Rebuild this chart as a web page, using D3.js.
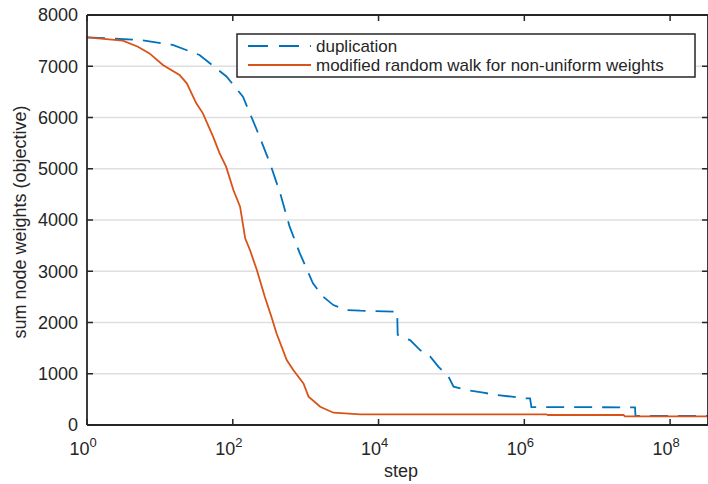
<!DOCTYPE html>
<html>
<head>
<meta charset="utf-8">
<script src="https://cdn.jsdelivr.net/npm/d3@7"></script>
<style>
  body { margin: 0; background: #fff; }
  text { font-family: "Liberation Sans", Arial, sans-serif; fill: #262626; }
</style>
</head>
<body>
<div id="container"></div>
<script>
// duplication (blue dashed)
var dupSteps = [1, 5.3, 15, 35, 82, 138, 214, 324, 447, 603, 708, 832, 1259, 1738, 2399, 3631, 5623, 16982, 18000, 18300, 20000, 27100, 37150, 51300, 66100, 91200, 107000, 162000, 275000, 417000, 676000, 1.02e6, 1.2e6, 1.25e6, 3.3e7, 3.35e7, 3.3e8];
var dupValues = [7565, 7512, 7415, 7220, 6800, 6405, 5756, 5106, 4520, 3870, 3610, 3350, 2765, 2503, 2340, 2244, 2230, 2210, 2210, 1760, 1723, 1658, 1463, 1333, 1138, 942, 747, 683, 630, 585, 552, 520, 520, 350, 345, 176, 176];
// modified random walk (orange solid)
var walkSteps = [1, 3.1, 5, 7.2, 11, 18.6, 23.4, 31.6, 38.9, 53.7, 66, 81, 102, 126, 148, 172, 214, 275, 339, 398, 550, 676, 933, 1096, 1585, 2399, 5623, 2e6, 2.1e6, 2.3e7, 2.4e7, 3.3e8];
var walkValues = [7565, 7500, 7380, 7250, 7024, 6830, 6667, 6277, 6081, 5626, 5300, 5040, 4585, 4260, 3643, 3415, 3024, 2503, 2113, 1789, 1268, 1073, 813, 553, 357, 240, 209, 209, 195, 195, 170, 170];

var xTicks = [1, 1e2, 1e4, 1e6, 1e8];
var xTickExp = ["0", "2", "4", "6", "8"];
var yTicks = [0, 1000, 2000, 3000, 4000, 5000, 6000, 7000, 8000];
var legendLabels = ["duplication", "modified random walk for non-uniform weights"];

function toPoints(xs, ys) {
  var arr = [];
  for (var i = 0; i < xs.length; i++) arr.push({x: xs[i], y: ys[i]});
  return arr;
}

const W = 708, H = 484;
const margin = {top: 15, right: 0, bottom: 59, left: 87};
const width = W - margin.left - margin.right;
const height = H - margin.top - margin.bottom;

const svg = d3.select('#container').append('svg')
  .attr('width', W).attr('height', H);
const g = svg.append('g').attr('transform', `translate(${margin.left},${margin.top})`);

const xScale = d3.scaleLog().domain([1, Math.pow(10, 8.52)]).range([0, width]);
const yScale = d3.scaleLinear().domain([0, 8000]).range([height, 0]);

// grid
g.selectAll('.grid').data(yTicks.slice(1, -1)).enter().append('line')
  .attr('x1', 0).attr('x2', width)
  .attr('y1', d => yScale(d)).attr('y2', d => yScale(d))
  .attr('stroke', '#dfdfdf').attr('stroke-width', 1.5);

const line = d3.line().x(d => xScale(d.x)).y(d => yScale(d.y));

g.append('path').datum(toPoints(dupSteps, dupValues))
  .attr('fill', 'none').attr('stroke', '#0072BD').attr('stroke-width', 1.8)
  .attr('stroke-dasharray', '18,10').attr('d', line);
g.append('path').datum(toPoints(walkSteps, walkValues))
  .attr('fill', 'none').attr('stroke', '#D95319').attr('stroke-width', 1.8)
  .attr('d', line);

// axes box
const axisColor = '#262626';
g.append('line').attr('x1', 0).attr('x2', width).attr('y1', height).attr('y2', height)
  .attr('stroke', axisColor).attr('stroke-width', 1.8);
g.append('line').attr('x1', 0).attr('x2', width).attr('y1', 0).attr('y2', 0)
  .attr('stroke', axisColor).attr('stroke-width', 1.8);
g.append('line').attr('x1', 0).attr('x2', 0).attr('y1', 0).attr('y2', height)
  .attr('stroke', axisColor).attr('stroke-width', 1.8);
g.append('line').attr('x1', width).attr('x2', width).attr('y1', 0).attr('y2', height)
  .attr('stroke', axisColor).attr('stroke-width', 1.8);

// x ticks (inward, top and bottom)
xTicks.forEach(function(t, i) {
  var x = xScale(t);
  g.append('line').attr('x1', x).attr('x2', x).attr('y1', height).attr('y2', height - 6)
    .attr('stroke', axisColor).attr('stroke-width', 1.5);
  g.append('line').attr('x1', x).attr('x2', x).attr('y1', 0).attr('y2', 6)
    .attr('stroke', axisColor).attr('stroke-width', 1.5);
  var tx = g.append('text').attr('x', x - 4).attr('y', height + 30)
    .attr('text-anchor', 'middle').style('font-size', '18px');
  tx.append('tspan').text('10');
  tx.append('tspan').attr('dy', -8).style('font-size', '13px').text(xTickExp[i]);
});

// y ticks
yTicks.forEach(function(t) {
  var y = yScale(t);
  g.append('line').attr('x1', 0).attr('x2', 6).attr('y1', y).attr('y2', y)
    .attr('stroke', axisColor).attr('stroke-width', 1.5);
  g.append('line').attr('x1', width - 6).attr('x2', width).attr('y1', y).attr('y2', y)
    .attr('stroke', axisColor).attr('stroke-width', 1.5);
  g.append('text').attr('x', -9).attr('y', y).attr('dy', '0.35em')
    .attr('text-anchor', 'end').style('font-size', '18px').text(t);
});

// axis labels
svg.append('text').attr('x', 401).attr('y', 477).attr('text-anchor', 'middle')
  .style('font-size', '18px').text('step');
svg.append('text').attr('transform', 'translate(26,222) rotate(-90)')
  .attr('text-anchor', 'middle').style('font-size', '18px')
  .text('sum node weights (objective)');

// legend
const leg = svg.append('g');
leg.append('rect').attr('x', 237).attr('y', 34).attr('width', 458).attr('height', 43)
  .attr('fill', '#fff').attr('stroke', axisColor).attr('stroke-width', 1.5);
var legColors = ['#0072BD', '#D95319'];
var legDash = ['20,11', null];
legendLabels.forEach(function(lbl, i) {
  var y = 46 + i * 19;
  leg.append('line').attr('x1', 248).attr('x2', 311).attr('y1', y).attr('y2', y)
    .attr('stroke', legColors[i]).attr('stroke-width', 1.8)
    .attr('stroke-dasharray', legDash[i]);
  leg.append('text').attr('x', 316).attr('y', y).attr('dy', '0.35em')
    .style('font-size', '17px').text(lbl);
});
</script>
</body>
</html>
